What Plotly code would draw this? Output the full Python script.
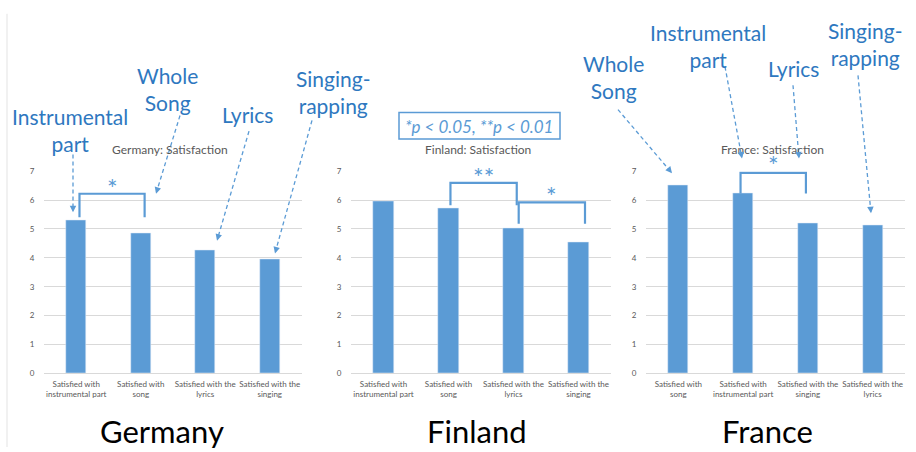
import plotly.graph_objects as go

W, H = 916, 452

# ---------------- data ----------------
countries = ["Germany", "Finland", "France"]
panel_titles = ["Germany: Satisfaction", "Finland: Satisfaction", "France: Satisfaction"]
cats_germany = ["Satisfied with<br>instrumental part", "Satisfied with<br>song",
                "Satisfied with the<br>lyrics", "Satisfied with the<br>singing"]
cats_finland = ["Satisfied with<br>instrumental part", "Satisfied with<br>song",
                "Satisfied with the<br>lyrics", "Satisfied with the<br>singing"]
cats_france = ["Satisfied with<br>song", "Satisfied with<br>instrumental part",
               "Satisfied with the<br>singing", "Satisfied with the<br>lyrics"]
vals_germany = [5.31, 4.87, 4.26, 3.95]
vals_finland = [5.96, 5.72, 5.03, 4.54]
vals_france = [6.52, 6.24, 5.19, 5.14]
y_ticks = [0, 1, 2, 3, 4, 5, 6, 7]
legend_text = "*p < 0.05, **p < 0.01"

BAR = "#5B9BD5"
TXT_BLUE = "#2E78C0"
GRAY = "#595959"
GRID = "#D9D9D9"
FONT = "Lato"


def px(x):
    return x / W


def py(y):
    return 1 - y / H


fig = go.Figure()

x_domains = [(44, 302), (351, 611), (646, 905)]
Y0_PX, Y7_PX = 376.7, 170.0
ydom = [py(Y0_PX), py(Y7_PX)]
cats_all = [cats_germany, cats_finland, cats_france]
vals_all = [vals_germany, vals_finland, vals_france]

for i, (cats, vals) in enumerate(zip(cats_all, vals_all)):
    n = i + 1
    xa = "x" if n == 1 else f"x{n}"
    ya = "y" if n == 1 else f"y{n}"
    fig.add_trace(go.Bar(x=list(range(len(vals))), y=vals, marker_color=BAR,
                         width=0.31, xaxis=xa, yaxis=ya, showlegend=False,
                         hoverinfo="y"))
    xkey = "xaxis" if n == 1 else f"xaxis{n}"
    ykey = "yaxis" if n == 1 else f"yaxis{n}"
    fig.layout[xkey] = dict(domain=[px(x_domains[i][0]), px(x_domains[i][1])],
                            range=[-0.5, 3.5], tickvals=list(range(len(cats))),
                            ticktext=cats, showgrid=False, zeroline=False,
                            showline=True, linecolor=GRID, linewidth=1,
                            ticks="outside", ticklen=3, tickcolor="rgba(0,0,0,0)",
                            tickfont=dict(family=FONT, size=8, color=GRAY),
                            anchor=ya, fixedrange=True)
    fig.layout[ykey] = dict(domain=ydom, range=[0, 7], tickvals=y_ticks,
                            showgrid=True, gridcolor=GRID, gridwidth=1,
                            zeroline=False, showline=False,
                            ticks="outside", ticklen=7, tickcolor="rgba(0,0,0,0)",
                            tickfont=dict(family=FONT, size=8, color=GRAY),
                            anchor=xa, fixedrange=True)
    # panel title
    cx = (x_domains[i][0] + x_domains[i][1]) / 2 - 3
    fig.add_annotation(text=panel_titles[i], x=px(cx), y=py(148), xref="paper", yref="paper",
                       showarrow=False, xanchor="center", yanchor="middle",
                       font=dict(family=FONT, size=12, color=GRAY))

# big country labels
for name, cx in zip(countries, [162, 477, 767]):
    fig.add_annotation(text=name, x=px(cx), y=py(436), xref="paper", yref="paper",
                       showarrow=False, xanchor="center", yanchor="middle",
                       font=dict(family=FONT, size=31, color="#000000"))

# blue label annotations
labels = [
    ("Instrumental<br>part", 70, 128),
    ("Whole<br>Song", 167, 86),
    ("Lyrics", 247, 112),
    ("Singing-<br>rapping", 333, 89),
    ("Whole<br>Song", 613, 74),
    ("Instrumental<br>part", 708, 42),
    ("Lyrics", 793, 65),
    ("Singing-<br>rapping", 865, 40),
]
for t, x, y in labels:
    fig.add_annotation(text=t, x=px(x), y=py(y), xref="paper", yref="paper",
                       showarrow=False, xanchor="center", yanchor="middle",
                       font=dict(family=FONT, size=21, color=TXT_BLUE))

# dashed arrows
arrows = [
    ((73, 153), (73, 212)),
    ((180, 113), (156, 193)),
    ((249, 129), (217, 241)),
    ((312, 118), (275, 254)),
    ((618, 107), (672, 172)),
    ((725, 63), (742, 157)),
    ((793, 82), (799, 157)),
    ((858, 72), (871, 213)),
]
for (x0, y0), (x1, y1) in arrows:
    dx, dy = x1 - x0, y1 - y0
    L = (dx * dx + dy * dy) ** 0.5
    ux, uy = dx / L, dy / L
    fig.add_shape(type="line", xref="paper", yref="paper",
                  x0=px(x0), y0=py(y0), x1=px(x1 - ux * 4), y1=py(y1 - uy * 4),
                  line=dict(color=BAR, width=1.3, dash="4px,3px"))
    fig.add_annotation(x=px(x1), y=py(y1), xref="paper", yref="paper", text="",
                       showarrow=True, ax=-ux * 7, ay=-uy * 7, axref="pixel", ayref="pixel",
                       arrowhead=2, arrowsize=1, arrowwidth=1.3, arrowcolor=BAR)

# significance brackets: (panel, left bar, right bar, left leg offset, right leg offset, bottom, top, label, label y)
brackets = [
    (1, 0, 1, 0.05, 0.06, 5.41, 6.22, "*", 6.42),
    (2, 1, 2, 0.03, 0.05, 5.82, 6.60, "**", 6.80),
    (2, 2, 3, 0.08, 0.10, 5.18, 5.92, "*", 6.14),
    (3, 1, 2, -0.04, -0.03, 6.23, 6.94, "*", 7.20),
]
for p, a, b, oa, ob, yb, yt, lab, ly in brackets:
    xr = "x" if p == 1 else f"x{p}"
    yr = "y" if p == 1 else f"y{p}"
    xa_, xb_ = a + oa, b + ob
    path = f"M {xa_} {yb} L {xa_} {yt} L {xb_} {yt} L {xb_} {yb}"
    fig.add_shape(type="path", xref=xr, yref=yr, path=path,
                  line=dict(color=BAR, width=2.2), layer="above")
    # star label in paper coords so it is never hidden above the axis range
    d0, d1 = x_domains[p - 1]
    sx = d0 + ((xa_ + xb_) / 2 + 0.5) / 4 * (d1 - d0)
    sy = Y0_PX - ly / 7 * (Y0_PX - Y7_PX)
    fig.add_annotation(text=lab, x=px(sx), y=py(sy), xref="paper", yref="paper",
                       showarrow=False, xanchor="center", yanchor="middle",
                       font=dict(family=FONT, size=25, color=BAR))

# legend box
fig.add_shape(type="rect", xref="paper", yref="paper", x0=px(399), x1=px(560),
              y0=py(137), y1=py(110), line=dict(color=BAR, width=1.5))
fig.add_annotation(text=f"<i>{legend_text}</i>", x=px(479), y=py(124), xref="paper", yref="paper",
                   showarrow=False, xanchor="center", yanchor="middle",
                   font=dict(family=FONT, size=17, color=BAR))

# left thin border line and cut-off text on top
fig.add_shape(type="line", xref="paper", yref="paper", x0=px(7), x1=px(7), y0=0, y1=py(9),
              line=dict(color="#E3E3E3", width=1))
fig.add_annotation(text="p", x=px(300), y=py(-4), xref="paper", yref="paper", showarrow=False,
                   xanchor="center", yanchor="bottom",
                   font=dict(family="Liberation Serif", size=26, color="#000000"))

fig.update_layout(width=W, height=H, margin=dict(l=0, r=0, t=0, b=0),
                  paper_bgcolor="white", plot_bgcolor="white", bargap=0.0)

fig.write_html("out.html")
